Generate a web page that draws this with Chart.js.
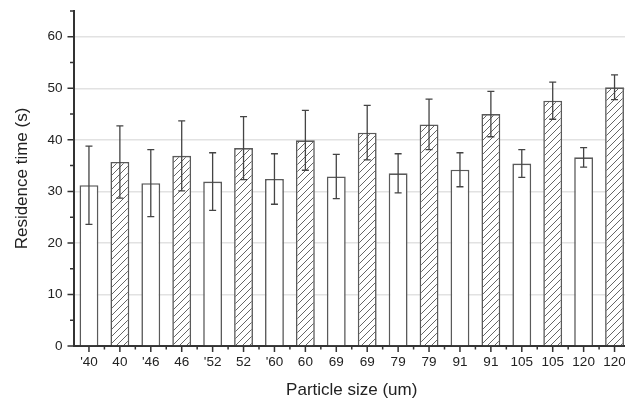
<!DOCTYPE html>
<html>
<head>
<meta charset="utf-8">
<script src="https://cdn.jsdelivr.net/npm/chart.js@4"></script>
<style>
  html, body { margin: 0; padding: 0; background: #fff; overflow: hidden; }
  #wrap { width: 632px; height: 401px; }
</style>
</head>
<body>
<div id="wrap"><canvas id="myChart"></canvas></div>
<script>
const sizes = ["'40", "40", "'46", "46", "'52", "52", "'60", "60", "69", "69",
               "79", "79", "91", "91", "105", "105", "120", "120"];
const times = [31.2, 35.7, 31.6, 36.9, 31.9, 38.4, 32.4, 39.9, 32.9, 41.4,
               33.5, 43.0, 34.2, 45.0, 35.4, 47.6, 36.6, 50.2];
const errs = [7.6, 7.0, 6.5, 6.8, 5.6, 6.1, 4.9, 5.8, 4.3, 5.3,
              3.8, 4.9, 3.3, 4.4, 2.7, 3.6, 1.9, 2.4];
const yTicks = [0, 10, 20, 30, 40, 50, 60];

const FONT = '"Liberation Sans", Arial, sans-serif';

// diagonal hatch for every second bar
function hatch() {
    const n = 7;
    const c = document.createElement('canvas');
    c.width = n; c.height = n;
    const g = c.getContext('2d');
    g.fillStyle = '#fff';
    g.fillRect(0, 0, n, n);
    g.strokeStyle = '#555';
    g.lineWidth = 0.9;
    g.beginPath();
    g.moveTo(-1, n + 1); g.lineTo(n + 1, -1);
    g.moveTo(-n, n); g.lineTo(n, -n);
    g.moveTo(0, 2 * n); g.lineTo(2 * n, 0);
    g.stroke();
    return g.createPattern(c, 'repeat');
}
const pat = hatch();

const errorBars = {
    id: 'errorBars',
    afterDatasetsDraw(chart) {
        const ctx = chart.ctx;
        const y = chart.scales.y;
        const meta = chart.getDatasetMeta(0);
        ctx.save();
        ctx.strokeStyle = '#444';
        ctx.lineWidth = 1.3;
        meta.data.forEach((bar, i) => {
            const top = y.getPixelForValue(times[i] + errs[i]);
            const bot = y.getPixelForValue(times[i] - errs[i]);
            ctx.beginPath();
            ctx.moveTo(bar.x, top); ctx.lineTo(bar.x, bot);
            ctx.moveTo(bar.x - 3.5, top); ctx.lineTo(bar.x + 3.5, top);
            ctx.moveTo(bar.x - 3.5, bot); ctx.lineTo(bar.x + 3.5, bot);
            ctx.stroke();
        });
        ctx.restore();
    }
};

// major + minor tick marks like the original plot
const tickMarks = {
    id: 'tickMarks',
    afterDraw(chart) {
        const ctx = chart.ctx;
        const {x, y} = chart.scales;
        const area = chart.chartArea;
        ctx.save();
        ctx.strokeStyle = '#333';
        ctx.lineWidth = 1.5;
        ctx.beginPath();
        for (let v = 0; v <= 65; v += 5) {
            const py = y.getPixelForValue(v);
            const len = v % 10 === 0 ? 6 : 3.5;
            ctx.moveTo(area.left, py); ctx.lineTo(area.left - len, py);
        }
        for (let i = 0; i < sizes.length; i++) {
            const px = x.getPixelForValue(i);
            ctx.moveTo(px, area.bottom); ctx.lineTo(px, area.bottom + 6);
            const pb = x.getPixelForValue(i + 0.5);
            ctx.moveTo(pb, area.bottom); ctx.lineTo(pb, area.bottom + 3.5);
        }
        ctx.stroke();
        ctx.restore();
    }
};

const ctx = document.getElementById('myChart');

let ch = new Chart(ctx, {
    type: 'bar',
    data: {
        labels: sizes,
        datasets: [
            {
                label: 'Residence time',
                data: times,
                backgroundColor: times.map((t, i) => i % 2 ? pat : '#fff'),
                borderColor: '#5a5a5a',
                borderWidth: 1.6,
                barPercentage: 0.61,
                categoryPercentage: 1.0,
            },
        ]
    },
    plugins: [errorBars, tickMarks],
    options: {
        responsive: true,
        maintainAspectRatio: false,
        animation: false,
        layout: {
            padding: { top: 11, right: 2, left: 0, bottom: 0 }
        },
        plugins: {
            legend: { display: false },
            tooltip: { enabled: false },
            title: { display: false }
        },
        scales: {
            x: {
                afterFit: s => { s.height = 55; s.paddingLeft = 0; s.paddingRight = 0; },
                grid: { display: false, drawTicks: false },
                border: { display: true, color: '#333', width: 2 },
                ticks: {
                    autoSkip: false,
                    maxRotation: 0,
                    padding: 8,
                    color: '#222',
                    font: { family: FONT, size: 13.5 }
                },
                title: {
                    display: true,
                    text: 'Particle size (um)',
                    color: '#222',
                    padding: { top: 0, bottom: 0 },
                    font: { family: FONT, size: 17 }
                }
            },
            y: {
                min: 0,
                max: 65,
                afterFit: s => { s.width = 73.5; s.paddingTop = 0; s.paddingBottom = 0; },
                grid: {
                    drawTicks: false,
                    lineWidth: 1.5,
                    color: c => (c.tick && c.tick.value > 0 && yTicks.includes(c.tick.value)) ? '#e2e2e2' : 'rgba(0,0,0,0)'
                },
                border: { display: true, color: '#333', width: 2 },
                ticks: {
                    stepSize: 5,
                    autoSkip: false,
                    padding: 11,
                    color: '#222',
                    font: { family: FONT, size: 13.5 },
                    callback: v => yTicks.includes(v) ? String(v) : ''
                },
                title: {
                    display: true,
                    text: 'Residence time (s)',
                    color: '#222',
                    padding: { top: 12, bottom: 0 },
                    font: { family: FONT, size: 17 }
                }
            }
        }
    }
});
</script>
</body>
</html>
